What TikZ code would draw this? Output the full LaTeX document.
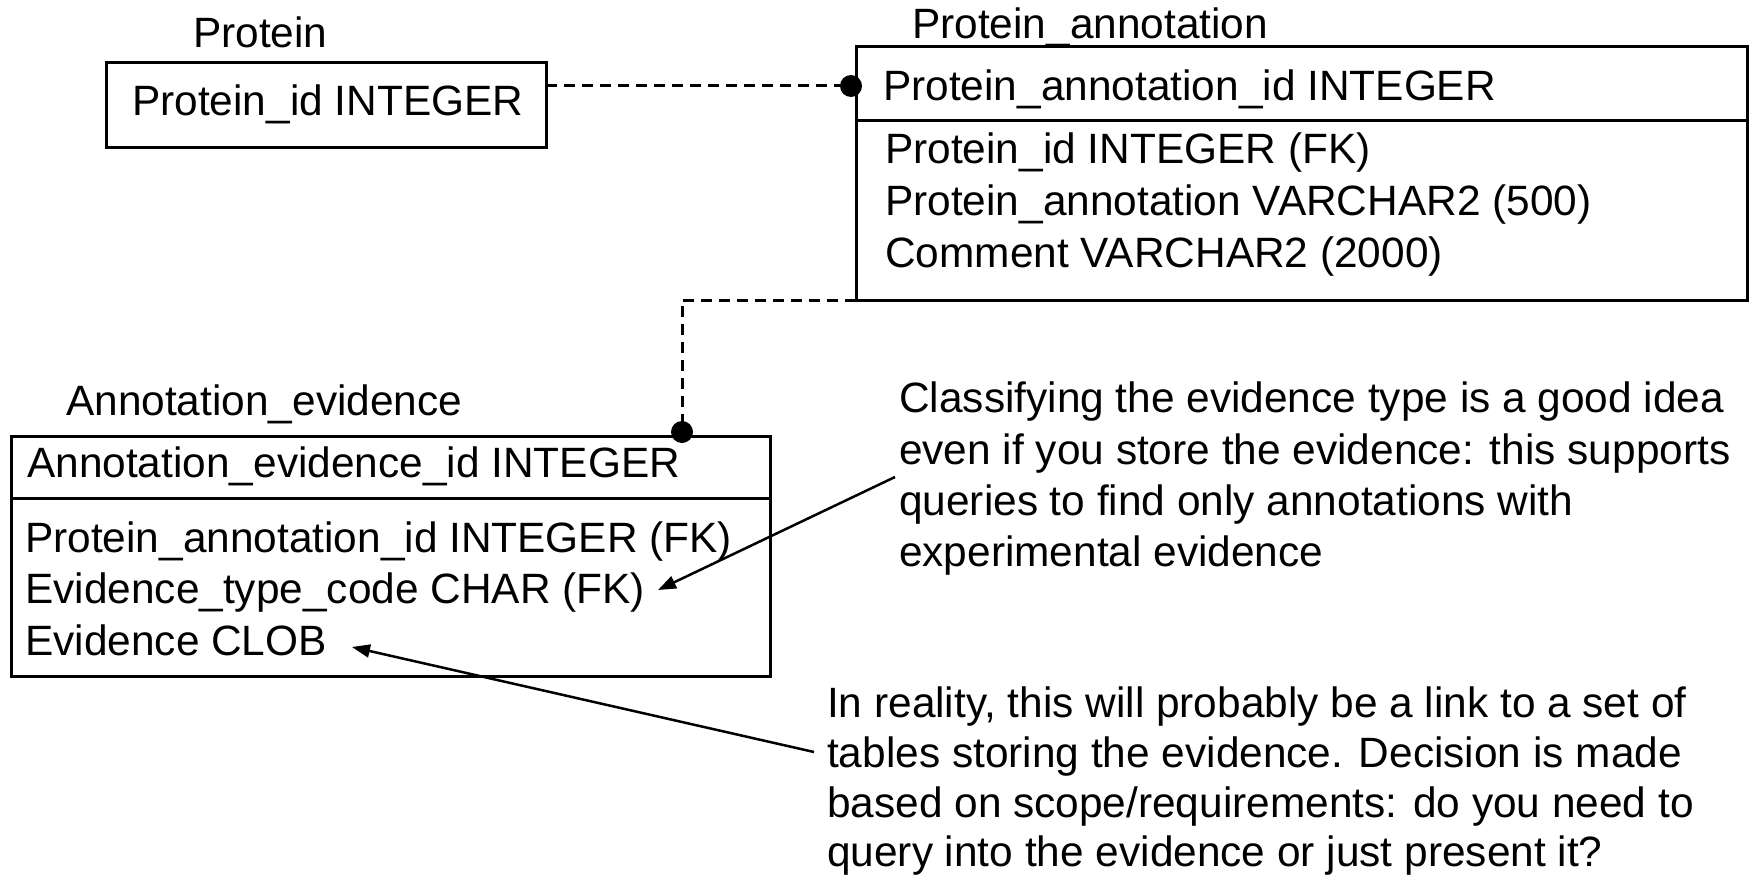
\documentclass[tikz,border=0pt]{standalone}
\usepackage{fontspec}
\setmainfont{Liberation Sans}
\usetikzlibrary{arrows.meta}
\begin{document}
\begin{tikzpicture}[x=1pt,y=-1pt,
  lbl/.style={anchor=base west, inner sep=0pt, font=\fontsize{42.4}{51}\selectfont},
  tbl/.style={draw, line width=3pt, anchor=north west, inner sep=0pt, outer sep=0pt},
  rel/.style={line width=3pt, dash pattern=on 11pt off 7pt},
  dot/.style={fill=black},
  notearrow/.style={-{Triangle[length=18pt,width=13pt]}, line width=2.5pt}]
\useasboundingbox[fill=white] (0,0) rectangle (1754,875);

% tables
\node[tbl, minimum width=440pt, minimum height=84pt] (protein) at (106,63) {};
\node[tbl, minimum width=891pt, minimum height=253pt] (pa) at (856,47) {};
\node[tbl, minimum width=759pt, minimum height=240pt] (ae) at (11,436) {};
\draw[line width=3pt] (pa.north west) ++(0,73) coordinate (pad) -- (pad -| pa.east);
\draw[line width=3pt] (ae.north west) ++(0,62) coordinate (aed) -- (aed -| ae.east);

% titles
\node[lbl] (tprotein) at (193,48) {Protein};
\node[lbl] (tpa) at (912,39) {Protein\_annotation};
\node[lbl] (tae) at (66,415) {Annotation\_evidence};

% rows
\node[lbl] (p1) at (132,115) {Protein\_id INTEGER};
\node[lbl] (pa1) at (883,100) {Protein\_annotation\_id INTEGER};
\node[lbl] (pa2) at (885,163) {Protein\_id INTEGER (FK)};
\node[lbl] (pa3) at (885,215) {Protein\_annotation VARCHAR2 (500)};
\node[lbl] (pa4) at (885,267) {Comment VARCHAR2 (2000)};
\node[lbl] (ae1) at (27,477) {Annotation\_evidence\_id INTEGER};
\node[lbl] (ae2) at (25,552) {Protein\_annotation\_id INTEGER (FK)};
\node[lbl] (ae3) at (25,603) {Evidence\_type\_code CHAR (FK)};
\node[lbl] (ae4) at (25,655) {Evidence CLOB};

% notes
\node[lbl] (na1) at (899,412) {Classifying the evidence type is a good idea};
\node[lbl] (na2) at (899,464) {even if you store the evidence: this supports};
\node[lbl] (na3) at (899,515) {queries to find only annotations with};
\node[lbl] (na4) at (899,566) {experimental evidence};
\node[lbl] (nb1) at (827,717) {In reality, this will probably be a link to a set of};
\node[lbl] (nb2) at (827,767) {tables storing the evidence. Decision is made};
\node[lbl] (nb3) at (827,817) {based on scope/requirements: do you need to};
\node[lbl] (nb4) at (827,866) {query into the evidence or just present it?};

% relationships
\coordinate (d1) at (851,86);
\coordinate (d2) at (682,432);
\draw[rel] (protein.east |- d1) -- (d1);
\draw[rel] (pa.south west) -- (pa.south west -| d2) -- (d2);
\fill[dot] (d1) circle (11);
\fill[dot] (d2) circle (11);

% annotation arrows
\coordinate (a1s) at (895,477);
\coordinate (a1e) at (658,590);
\coordinate (a2s) at (814,752);
\coordinate (a2e) at (352,647);
\draw[notearrow] (a1s) -- (a1e);
\draw[notearrow] (a2s) -- (a2e);
\end{tikzpicture}
\end{document}
